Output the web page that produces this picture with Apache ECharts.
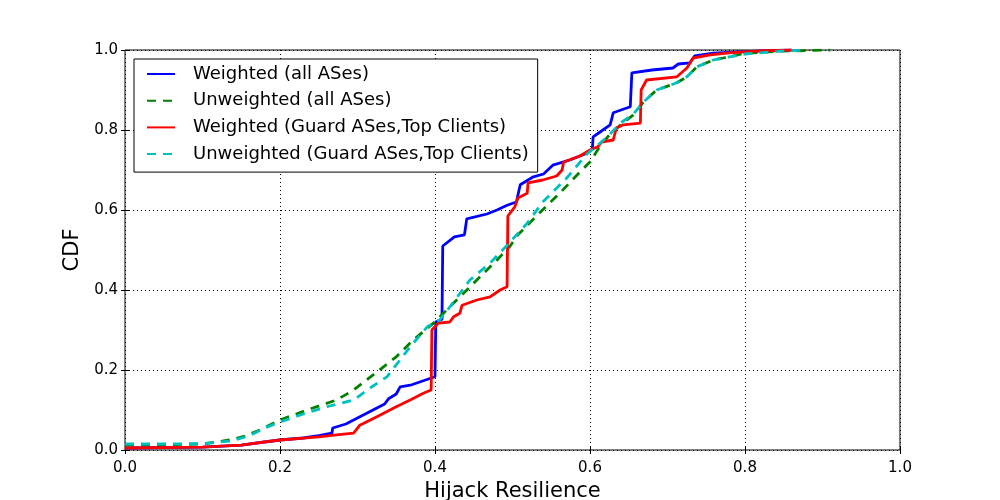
<!DOCTYPE html>
<html>
<head>
<meta charset="utf-8">
<script src="https://cdn.jsdelivr.net/npm/echarts@6/dist/echarts.min.js"></script>
<style>
  html, body { margin: 0; padding: 0; background: #fff; }
  #chart { width: 1000px; height: 500px; }
</style>
</head>
<body>
<div id="chart"></div>
<script>
// CDF curves as [x, y] pairs
var weightedAll = [[0,0.005],[0.1,0.007],[0.15,0.012],[0.18,0.02],[0.2,0.025],[0.23,0.03],[0.25,0.036],[0.267,0.042],[0.268,0.055],[0.285,0.065],[0.3,0.08],[0.32,0.1],[0.335,0.115],[0.34,0.128],[0.35,0.14],[0.355,0.158],[0.37,0.163],[0.385,0.173],[0.4,0.183],[0.401,0.32],[0.409,0.327],[0.41,0.51],[0.425,0.533],[0.438,0.538],[0.441,0.578],[0.467,0.59],[0.48,0.6],[0.493,0.612],[0.505,0.62],[0.51,0.663],[0.527,0.683],[0.54,0.69],[0.552,0.712],[0.574,0.725],[0.596,0.742],[0.603,0.752],[0.604,0.783],[0.613,0.795],[0.626,0.813],[0.63,0.843],[0.652,0.858],[0.654,0.943],[0.68,0.95],[0.707,0.955],[0.714,0.965],[0.729,0.968],[0.735,0.985],[0.759,0.992],[0.8,0.996],[0.86,1.0]];
var unweightedAll = [[0,0.012],[0.05,0.013],[0.1,0.015],[0.135,0.025],[0.155,0.035],[0.174,0.05],[0.2,0.075],[0.235,0.1],[0.273,0.125],[0.295,0.15],[0.325,0.195],[0.35,0.233],[0.372,0.275],[0.398,0.317],[0.415,0.35],[0.428,0.375],[0.454,0.425],[0.48,0.475],[0.497,0.51],[0.507,0.538],[0.535,0.593],[0.561,0.642],[0.587,0.695],[0.6,0.72],[0.613,0.76],[0.626,0.79],[0.639,0.812],[0.656,0.838],[0.669,0.87],[0.686,0.9],[0.712,0.918],[0.725,0.933],[0.738,0.958],[0.759,0.975],[0.78,0.983],[0.8,0.992],[0.845,0.997],[0.91,1.0]];
var weightedGuard = [[0,0.005],[0.1,0.007],[0.15,0.012],[0.18,0.02],[0.2,0.025],[0.25,0.033],[0.27,0.037],[0.295,0.042],[0.303,0.062],[0.325,0.083],[0.35,0.108],[0.368,0.125],[0.385,0.142],[0.395,0.15],[0.396,0.30],[0.404,0.317],[0.419,0.32],[0.424,0.333],[0.432,0.342],[0.435,0.362],[0.454,0.375],[0.471,0.383],[0.484,0.4],[0.493,0.408],[0.494,0.585],[0.503,0.608],[0.507,0.63],[0.519,0.642],[0.52,0.668],[0.539,0.675],[0.557,0.685],[0.564,0.70],[0.566,0.72],[0.587,0.735],[0.6,0.75],[0.61,0.758],[0.615,0.77],[0.63,0.775],[0.634,0.805],[0.643,0.813],[0.665,0.817],[0.666,0.9],[0.673,0.925],[0.712,0.933],[0.725,0.955],[0.733,0.98],[0.755,0.988],[0.78,0.993],[0.82,0.998],[0.86,1.0]];
var unweightedGuard = [[0,0.015],[0.05,0.015],[0.1,0.016],[0.135,0.022],[0.16,0.035],[0.18,0.055],[0.2,0.07],[0.23,0.09],[0.26,0.108],[0.295,0.125],[0.32,0.16],[0.338,0.183],[0.368,0.258],[0.39,0.308],[0.406,0.325],[0.42,0.36],[0.445,0.425],[0.471,0.467],[0.493,0.512],[0.519,0.567],[0.539,0.62],[0.57,0.68],[0.596,0.74],[0.61,0.762],[0.626,0.79],[0.639,0.817],[0.656,0.84],[0.669,0.87],[0.686,0.9],[0.712,0.918],[0.725,0.933],[0.738,0.958],[0.759,0.975],[0.78,0.983],[0.8,0.99],[0.845,0.997],[0.88,1.0]];

var seriesNames = ['Weighted (all ASes)', 'Unweighted (all ASes)', 'Weighted (Guard ASes,Top Clients)', 'Unweighted (Guard ASes,Top Clients)'];

var myChart = echarts.init(document.getElementById('chart'));

var font = 'DejaVu Sans';
var dashes = [9, 7];
var tickOnly = {
    axisLine: { show: false },
    axisLabel: { show: false },
    splitLine: { show: false },
    axisTick: { show: true, inside: true, length: 4, lineStyle: { color: '#000' } }
};

option = {
    backgroundColor: '#fff',
    animation: false,
    textStyle: { fontFamily: font },
    grid: {
        left: 125,
        right: 100,
        top: 50,
        bottom: 50,
        outerBoundsMode: 'none',
        containLabel: false,
        show: true,
        borderColor: '#000',
        borderWidth: 1
    },
    legend: {
        orient: 'vertical',
        left: 134,
        top: 59,
        padding: [5, 9, 8, 12],
        itemWidth: 28,
        itemHeight: 14,
        itemGap: 6.7,
        itemStyle: { opacity: 0 },
        borderColor: '#000',
        borderWidth: 1,
        backgroundColor: '#fff',
        borderRadius: 0,
        textStyle: { fontSize: 18, color: '#000', fontFamily: font, padding: [0, 0, 0, 13], lineHeight: 20 },
        data: seriesNames
    },
    xAxis: [{
        type: 'value',
        min: 0,
        max: 1,
        interval: 0.2,
        name: 'Hijack Resilience',
        nameLocation: 'middle',
        nameGap: 31,
        nameTextStyle: { fontSize: 21, color: '#000', fontFamily: font },
        axisLine: { show: false },
        axisTick: { show: true, inside: true, length: 4, lineStyle: { color: '#000' } },
        axisLabel: { fontSize: 15, color: '#000', margin: 11, formatter: function (v) { return v.toFixed(1); } },
        splitLine: { show: true, lineStyle: { color: '#000', type: [1, 3], width: 1 } }
    }, Object.assign({
        type: 'value', min: 0, max: 1, interval: 0.2, position: 'top'
    }, tickOnly)],
    yAxis: [{
        type: 'value',
        min: 0,
        max: 1,
        interval: 0.2,
        name: 'CDF',
        nameLocation: 'middle',
        nameGap: 35,
        nameTextStyle: { fontSize: 21, color: '#000', fontFamily: font },
        axisLine: { show: false },
        axisTick: { show: true, inside: true, length: 4, lineStyle: { color: '#000' } },
        axisLabel: { fontSize: 15, color: '#000', margin: 7, formatter: function (v) { return v.toFixed(1); } },
        splitLine: { show: true, lineStyle: { color: '#000', type: [1, 3], width: 1 } }
    }, Object.assign({
        type: 'value', min: 0, max: 1, interval: 0.2, position: 'right'
    }, tickOnly)],
    series: [
        {
            name: seriesNames[0],
            type: 'line',
            symbol: 'none',
            color: '#0000ff',
            lineStyle: { width: 2.8, color: '#0000ff' },
            data: weightedAll
        },
        {
            name: seriesNames[1],
            type: 'line',
            symbol: 'none',
            color: '#008000',
            lineStyle: { width: 2.8, color: '#008000', type: dashes },
            data: unweightedAll
        },
        {
            name: seriesNames[2],
            type: 'line',
            symbol: 'none',
            color: '#ff0000',
            lineStyle: { width: 2.8, color: '#ff0000' },
            data: weightedGuard
        },
        {
            name: seriesNames[3],
            type: 'line',
            symbol: 'none',
            color: '#00bfbf',
            lineStyle: { width: 2.8, color: '#00bfbf', type: dashes },
            data: unweightedGuard
        }
    ]
};
myChart.setOption(option);
</script>
</body>
</html>
